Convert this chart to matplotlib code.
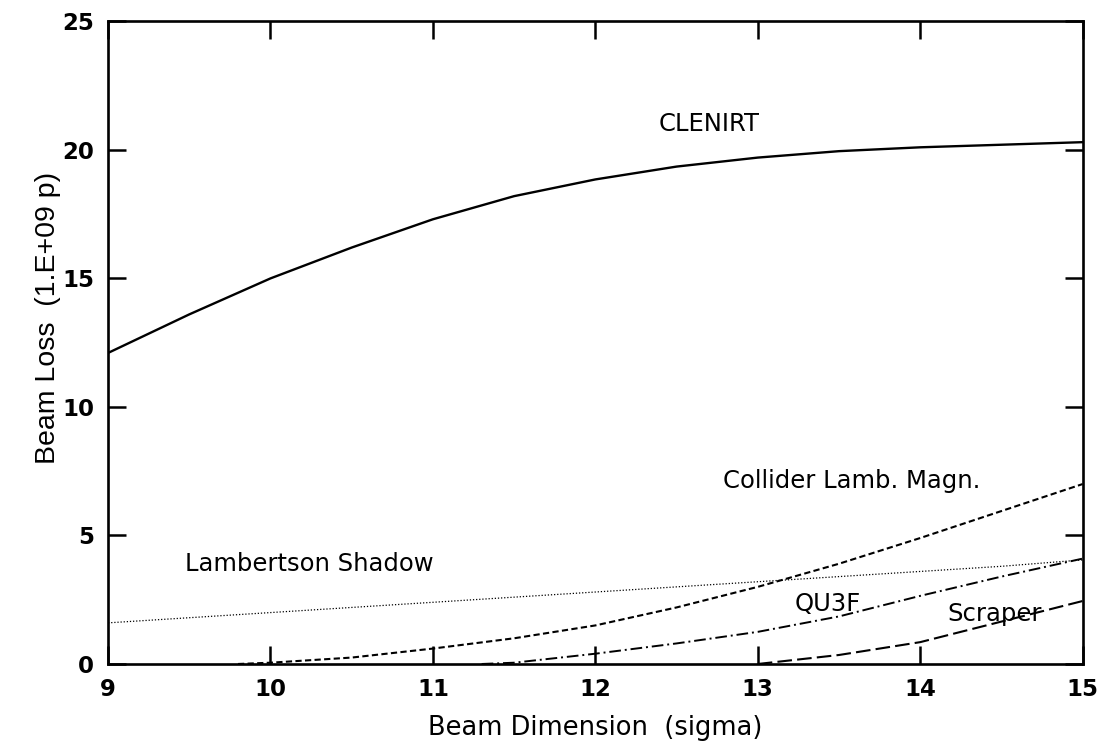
import numpy as np
import matplotlib
matplotlib.use("Agg")
import matplotlib.pyplot as plt

plt.rcParams['font.family'] = ['DejaVu Sans']

# Beam dimension in units of sigma
sigma = [9, 9.5, 10, 10.5, 11, 11.5, 12, 12.5, 13, 13.5, 14, 14.5, 15]

# Beam loss (1.E+09 p) per element
clenirt = [12.1, 13.6, 15.0, 16.2, 17.3, 18.2, 18.85, 19.35, 19.7, 19.95, 20.1, 20.2, 20.3]
lambertson_shadow = [1.6, 1.8, 2.0, 2.2, 2.4, 2.6, 2.8, 3.0, 3.2, 3.4, 3.6, 3.8, 4.05]

collider_sigma = [9.8, 10, 10.5, 11, 11.5, 12, 12.5, 13, 13.5, 14, 14.5, 15]
collider_lamb = [0.0, 0.05, 0.25, 0.6, 1.0, 1.5, 2.2, 3.0, 3.9, 4.9, 5.95, 7.0]

qu3f_sigma = [11.3, 11.5, 12, 12.5, 13, 13.5, 14, 14.5, 15]
qu3f = [0.0, 0.05, 0.4, 0.8, 1.25, 1.85, 2.65, 3.4, 4.1]

scraper_sigma = [13, 13.5, 14, 14.5, 15]
scraper = [0.0, 0.35, 0.85, 1.65, 2.45]

x_ticks = [9, 10, 11, 12, 13, 14, 15]
y_ticks = [0, 5, 10, 15, 20, 25]

fig = plt.figure(figsize=(11.07, 7.49), dpi=100)
ax = fig.add_axes([0.0976, 0.1135, 0.8804, 0.858])

ax.plot(sigma, clenirt, color='black', lw=1.7, ls='-')
ax.plot(sigma, lambertson_shadow, color='black', lw=0.9, ls=(0, (1, 1.5)))
ax.plot(collider_sigma, collider_lamb, color='black', lw=1.5, ls=(0, (3, 1.6)))
ax.plot(qu3f_sigma, qu3f, color='black', lw=1.4, ls=(0, (6, 2, 1, 2)))
ax.plot(scraper_sigma, scraper, color='black', lw=1.5, ls=(0, (7, 2.5)))

label_kw = dict(fontsize=17.5, ha='center', va='center', color='black')
ax.text(12.70, 21.0, 'CLENIRT', **label_kw)
ax.text(13.58, 7.1, 'Collider Lamb. Magn.', **label_kw)
ax.text(10.24, 3.9, 'Lambertson Shadow', **label_kw)
ax.text(13.43, 2.35, 'QU3F', **label_kw)
ax.text(14.46, 1.95, 'Scraper', **label_kw)

ax.set_xlim(9, 15)
ax.set_ylim(0, 25)
ax.set_xticks(x_ticks)
ax.set_yticks(y_ticks)
ax.set_xticklabels([str(v) for v in x_ticks], fontsize=16.5, fontweight='bold')
ax.set_yticklabels([str(v) for v in y_ticks], fontsize=16.5, fontweight='bold')
ax.tick_params(direction='in', length=13, width=1.8, top=True, right=True)
ax.tick_params(axis='x', pad=10)
ax.tick_params(axis='y', pad=10)

for s in ax.spines.values():
    s.set_linewidth(1.9)

ax.set_xlabel('Beam Dimension  (sigma)', fontsize=18.5, labelpad=10)
ax.set_ylabel('Beam Loss  (1.E+09 p)', fontsize=20.5,
              family=['Liberation Sans Narrow', 'Liberation Sans'])
ax.yaxis.set_label_coords(-0.048, 0.538)

fig.savefig('out.png', dpi=100)
